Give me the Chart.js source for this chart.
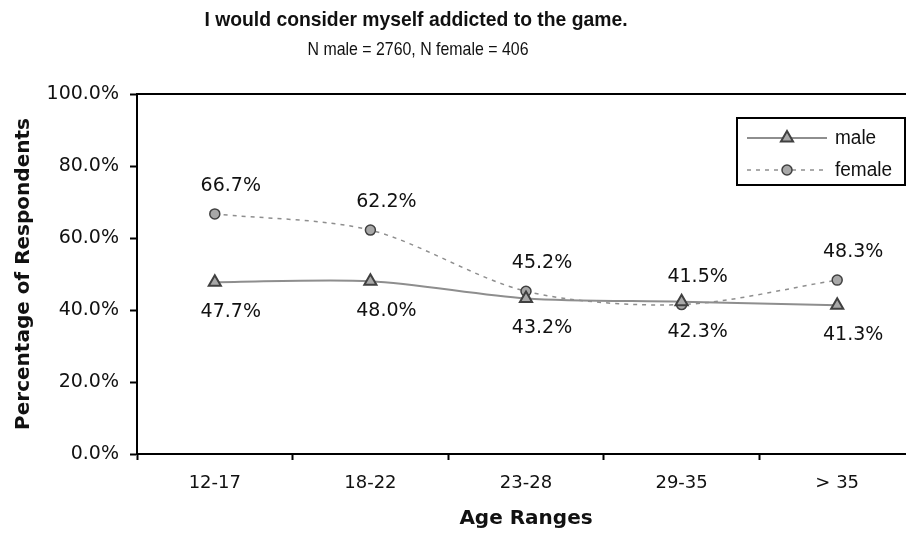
<!DOCTYPE html>
<html>
<head>
<meta charset="utf-8">
<script src="https://cdn.jsdelivr.net/npm/chart.js@4/dist/chart.umd.min.js"></script>
<style>
  html, body { margin: 0; padding: 0; background: #fff; overflow: hidden; }
  #wrap { width: 906px; height: 534px; overflow: hidden; }
  canvas { display: block; }
</style>
</head>
<body>
<div id="wrap"><canvas id="c" width="930" height="534" style="width:930px;height:534px"></canvas></div>
<script>
// Survey answers by age range, percent of respondents who agree
const ageRanges = ['12-17', '18-22', '23-28', '29-35', '> 35'];
const maleValues = [47.7, 48.0, 43.2, 42.3, 41.3];
const femaleValues = [66.7, 62.2, 45.2, 41.5, 48.3];
const yTicks = [0, 20, 40, 60, 80, 100];

const titleText = 'I would consider myself addicted to the game.';
const subtitleText = 'N male = 2760, N female = 406';

const TEXT = '#111';
const MARK_FILL = '#a8a8a8';
const MARK_EDGE = '#404040';
const LINE = '#8e8e8e';

const pct = v => v.toFixed(1) + '%';

// Draw a marker shape (used by the legend)
function marker(ctx, style, x, y, r, fill, edge, bw) {
  ctx.save();
  ctx.beginPath();
  if (style === 'triangle') {
    const h = Math.PI / 180;
    ctx.moveTo(x, y - r);
    ctx.lineTo(x + Math.sin(120 * h) * r, y - Math.cos(120 * h) * r);
    ctx.lineTo(x + Math.sin(240 * h) * r, y - Math.cos(240 * h) * r);
    ctx.closePath();
  } else {
    ctx.arc(x, y, r, 0, Math.PI * 2);
  }
  ctx.fillStyle = fill;
  ctx.fill();
  ctx.lineWidth = bw;
  ctx.strokeStyle = edge;
  ctx.stroke();
  ctx.restore();
}

// Text squeezed horizontally to a given width
function fitText(ctx, text, font, cx, cy, width) {
  ctx.save();
  ctx.font = font;
  const w = ctx.measureText(text).width;
  ctx.translate(cx, cy);
  ctx.scale(width / w, 1);
  ctx.textAlign = 'center';
  ctx.textBaseline = 'middle';
  ctx.fillStyle = TEXT;
  ctx.fillText(text, 0, 0);
  ctx.restore();
}

const decorations = {
  id: 'decorations',
  beforeDatasetsDraw(chart) {
    const { ctx, chartArea: a } = chart;
    // frame line along the top of the plot
    ctx.save();
    ctx.strokeStyle = '#000';
    ctx.lineWidth = 2;
    ctx.beginPath();
    ctx.moveTo(a.left, a.top);
    ctx.lineTo(a.right, a.top);
    ctx.stroke();
    ctx.restore();
  },
  afterDraw(chart) {
    const { ctx } = chart;
    // titles
    fitText(ctx, titleText, 'bold 21px "Liberation Sans", sans-serif', 416, 20, 423);
    fitText(ctx, subtitleText, '19px "Liberation Sans", sans-serif', 418, 50, 221);

    // value labels: female above the point, male below
    ctx.save();
    ctx.font = '19px "DejaVu Sans"';
    ctx.fillStyle = TEXT;
    ctx.textAlign = 'center';
    ctx.textBaseline = 'middle';
    chart.data.datasets.forEach((ds, i) => {
      const meta = chart.getDatasetMeta(i);
      meta.data.forEach((pt, j) => {
        const dy = ds.label === 'female' ? -28 : 30;
        ctx.fillText(pct(ds.data[j]), pt.x + 16, pt.y + dy);
      });
    });
    ctx.restore();

    // legend box
    const bx = 737, by = 118, bw = 168, bh = 67;
    ctx.save();
    ctx.fillStyle = '#fff';
    ctx.fillRect(bx, by, bw, bh);
    ctx.strokeStyle = '#000';
    ctx.lineWidth = 2;
    ctx.strokeRect(bx, by, bw, bh);
    const rows = [138, 170];
    chart.data.datasets.forEach((ds, i) => {
      const y = rows[i];
      ctx.save();
      ctx.strokeStyle = ds.borderColor;
      ctx.lineWidth = ds.borderWidth;
      ctx.setLineDash(ds.borderDash || []);
      ctx.beginPath();
      ctx.moveTo(747, y);
      ctx.lineTo(827, y);
      ctx.stroke();
      ctx.restore();
      marker(ctx, ds.pointStyle, 787, y, ds.pointRadius, ds.pointBackgroundColor, ds.pointBorderColor, ds.pointBorderWidth);
      ctx.save();
      ctx.font = '20px "Liberation Sans", sans-serif';
      ctx.fillStyle = TEXT;
      ctx.textAlign = 'left';
      ctx.textBaseline = 'middle';
      ctx.translate(835, y);
      ctx.scale(0.95, 1);
      ctx.fillText(ds.label, 0, 0);
      ctx.restore();
    });
    ctx.restore();
  }
};

Chart.defaults.font.family = '"DejaVu Sans"';
Chart.defaults.color = TEXT;

new Chart(document.getElementById('c'), {
  type: 'line',
  data: {
    labels: ageRanges,
    datasets: [
      {
        label: 'male',
        data: maleValues,
        borderColor: LINE,
        borderWidth: 2,
        tension: 0.3,
        pointStyle: 'triangle',
        pointRadius: 7,
        pointBackgroundColor: MARK_FILL,
        pointBorderColor: MARK_EDGE,
        pointBorderWidth: 2
      },
      {
        label: 'female',
        data: femaleValues,
        borderColor: LINE,
        borderWidth: 1.5,
        borderDash: [4, 5],
        tension: 0.3,
        pointStyle: 'circle',
        pointRadius: 5,
        pointBackgroundColor: MARK_FILL,
        pointBorderColor: MARK_EDGE,
        pointBorderWidth: 1.5
      }
    ]
  },
  options: {
    responsive: false,
    animation: false,
    layout: { padding: { top: 94, right: 15, left: 0, bottom: 0 } },
    plugins: {
      legend: { display: false },
      tooltip: { enabled: false },
      title: { display: false }
    },
    scales: {
      x: {
        offset: true,
        afterFit(s) { s.height = 80; },
        grid: {
          offset: true,
          drawOnChartArea: false,
          tickLength: 6,
          tickWidth: 2,
          tickColor: '#000'
        },
        border: { color: '#000', width: 2 },
        ticks: { padding: 13, font: { size: 18 }, color: TEXT },
        title: {
          display: true,
          text: 'Age Ranges',
          font: { size: 20, weight: 'bold' },
          color: TEXT,
          padding: { top: 0, bottom: 3 }
        }
      },
      y: {
        min: 0,
        max: 100,
        afterFit(s) { s.width = 137; },
        afterBuildTicks(s) { s.ticks = yTicks.map(v => ({ value: v })); },
        grid: {
          drawOnChartArea: false,
          tickLength: 7,
          tickWidth: 2,
          tickColor: '#000'
        },
        border: { color: '#000', width: 2 },
        ticks: { padding: 11, font: { size: 19 }, color: TEXT, callback: v => pct(v) },
        title: {
          display: true,
          text: 'Percentage of Respondents',
          font: { size: 20, weight: 'bold' },
          color: TEXT,
          padding: { top: 12, bottom: 0 }
        }
      }
    }
  },
  plugins: [decorations]
});
</script>
</body>
</html>
